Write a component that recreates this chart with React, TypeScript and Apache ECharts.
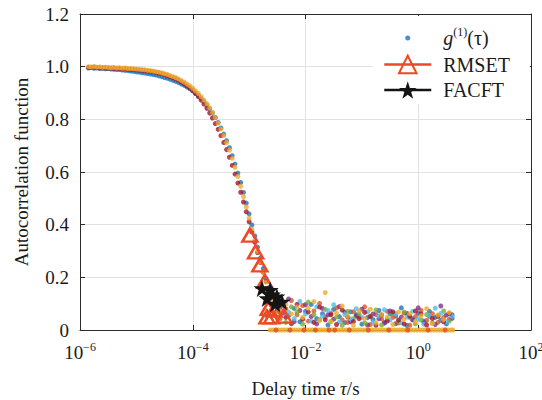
import React, { useEffect, useRef } from "react";
import * as echarts from "echarts";

// ---- data ----
// lag times for the decay part (s)
const curveTau = [
  1.41e-6, 1.58e-6, 1.78e-6, 2.0e-6, 2.24e-6, 2.51e-6, 2.82e-6, 3.16e-6, 3.55e-6, 3.98e-6,
  4.47e-6, 5.01e-6, 5.62e-6, 6.31e-6, 7.08e-6, 7.94e-6, 8.91e-6, 1.0e-5, 1.12e-5, 1.26e-5,
  1.41e-5, 1.58e-5, 1.78e-5, 2.0e-5, 2.24e-5, 2.51e-5, 2.82e-5, 3.16e-5, 3.55e-5, 3.98e-5,
  4.47e-5, 5.01e-5, 5.62e-5, 6.31e-5, 7.08e-5, 7.94e-5, 8.91e-5, 1.0e-4, 1.12e-4, 1.26e-4,
  1.41e-4, 1.58e-4, 1.78e-4, 2.0e-4, 2.24e-4, 2.51e-4, 2.82e-4, 3.16e-4, 3.55e-4, 3.98e-4,
  4.47e-4, 5.01e-4, 5.62e-4, 6.31e-4, 7.08e-4, 7.94e-4, 8.91e-4, 1.0e-3, 1.12e-3, 1.26e-3,
  1.41e-3, 1.58e-3, 1.78e-3, 2.0e-3, 2.24e-3, 2.51e-3, 2.82e-3, 3.16e-3,
];
const curveYellow = [
  1.0, 0.999, 1.001, 0.998, 0.999, 0.997, 0.998, 0.997, 0.996, 0.997,
  0.995, 0.996, 0.994, 0.995, 0.993, 0.993, 0.992, 0.991, 0.99, 0.989,
  0.988, 0.986, 0.985, 0.983, 0.981, 0.979, 0.976, 0.973, 0.97, 0.966,
  0.962, 0.958, 0.953, 0.947, 0.941, 0.934, 0.927, 0.918, 0.908, 0.898,
  0.886, 0.873, 0.859, 0.843, 0.826, 0.807, 0.786, 0.763, 0.738, 0.712,
  0.683, 0.652, 0.618, 0.583, 0.546, 0.507, 0.467, 0.425, 0.383, 0.341,
  0.299, 0.258, 0.219, 0.182, 0.148, 0.117, 0.09, 0.067,
];
const curveBlue = [
  0.995, 0.997, 0.994, 0.996, 0.993, 0.994, 0.992, 0.993, 0.991, 0.99,
  0.989, 0.989, 0.987, 0.986, 0.985, 0.983, 0.982, 0.98, 0.979, 0.977,
  0.976, 0.974, 0.972, 0.97, 0.968, 0.965, 0.962, 0.959, 0.956, 0.952,
  0.948, 0.944, 0.94, 0.934, 0.929, 0.922, 0.916, 0.908, 0.899, 0.89,
  0.879, 0.867, 0.854, 0.84, 0.824, 0.807, 0.788, 0.767, 0.744, 0.719,
  0.692, 0.662, 0.63, 0.596, 0.56, 0.522, 0.482, 0.441, 0.399, 0.357,
  0.315, 0.273, 0.234, 0.196, 0.161, 0.129, 0.101, 0.077,
];
const curveDarkRed = [
  0.997, 0.997, 0.998, 0.996, 0.996, 0.995, 0.995, 0.994, 0.994, 0.994,
  0.993, 0.993, 0.991, 0.992, 0.99, 0.99, 0.989, 0.988, 0.987, 0.986,
  0.985, 0.983, 0.982, 0.98, 0.978, 0.976, 0.973, 0.97, 0.966, 0.962,
  0.958, 0.954, 0.948, 0.942, 0.935, 0.927, 0.919, 0.909, 0.898, 0.886,
  0.873, 0.858, 0.842, 0.824, 0.805, 0.784, 0.762, 0.738, 0.712, 0.685,
  0.656, 0.625, 0.592, 0.558, 0.523, 0.486, 0.449, 0.411, 0.372, 0.333,
  0.294, 0.256, 0.219, 0.184, 0.151, 0.121, 0.094, 0.072,
];

// lag times of the noisy tail (two interleaved grids, s)
const tailTauA = [
  3.55e-3, 4.47e-3, 5.62e-3, 7.08e-3, 8.91e-3, 1.12e-2, 1.41e-2, 1.78e-2, 2.24e-2, 2.82e-2,
  3.55e-2, 4.47e-2, 5.62e-2, 7.08e-2, 8.91e-2, 0.112, 0.141, 0.178, 0.224, 0.282,
  0.355, 0.447, 0.562, 0.708, 0.891, 1.12, 1.41, 1.78, 2.24, 2.82, 3.55,
];
const tailTauB = [
  3.98e-3, 5.01e-3, 6.31e-3, 7.94e-3, 1.0e-2, 1.26e-2, 1.58e-2, 2.0e-2, 2.51e-2, 3.16e-2,
  3.98e-2, 5.01e-2, 6.31e-2, 7.94e-2, 0.1, 0.126, 0.158, 0.2, 0.251, 0.316,
  0.398, 0.501, 0.631, 0.794, 1.0, 1.26, 1.58, 2.0, 2.51, 3.16, 3.98,
];
const tailYellowA = [0.072, 0.098, 0.061, 0.087, 0.048, 0.083, 0.108, 0.037, 0.142, 0.031, 0.064, 0.091, 0.052, 0.018, 0.073, 0.044, 0.079, 0.027, 0.058, 0.049, 0.021, 0.068, 0.041, 0.062, 0.033, 0.054, 0.081, 0.024, 0.057, 0.039, 0.066];
const tailBlueB = [0.093, 0.054, 0.082, 0.031, 0.071, 0.097, 0.043, 0.062, 0.019, 0.078, 0.051, 0.028, 0.069, 0.058, 0.022, 0.047, 0.039, 0.074, 0.026, 0.061, 0.053, 0.084, 0.017, 0.042, 0.063, 0.034, 0.071, 0.048, 0.037, 0.023, 0.058];
const tailOrangeA = [0.043, 0.081, 0.112, 0.058, 0.093, 0.034, 0.072, 0.101, 0.049, 0.063, 0.084, 0.038, 0.029, 0.069, 0.052, 0.088, 0.021, 0.059, 0.042, 0.071, 0.048, 0.027, 0.064, 0.018, 0.051, 0.074, 0.036, 0.062, 0.029, 0.047, 0.041];
const tailPurpleB = [0.064, 0.118, 0.032, 0.074, 0.096, 0.051, 0.023, 0.082, 0.058, 0.041, 0.089, 0.068, 0.031, 0.053, 0.079, 0.019, 0.061, 0.043, 0.028, 0.072, 0.024, 0.049, 0.063, 0.038, 0.084, 0.029, 0.052, 0.021, 0.091, 0.057, 0.044];
const tailGreenA = [0.052, 0.029, 0.088, 0.067, 0.022, 0.106, 0.058, 0.039, 0.078, 0.033, 0.049, 0.018, 0.071, 0.043, 0.061, 0.027, 0.053, 0.076, 0.019, 0.041, 0.062, 0.031, 0.068, 0.047, 0.023, 0.038, 0.059, 0.028, 0.051, 0.072, 0.034];
const tailCyanB = [0.102, 0.068, 0.043, 0.109, 0.061, 0.034, 0.088, 0.052, 0.074, 0.096, 0.031, 0.059, 0.042, 0.081, 0.048, 0.069, 0.029, 0.053, 0.077, 0.038, 0.062, 0.027, 0.049, 0.071, 0.041, 0.022, 0.054, 0.083, 0.063, 0.032, 0.051];
const tailDarkRedA = [0.079, 0.048, 0.024, 0.097, 0.041, 0.068, 0.029, 0.087, 0.039, 0.058, 0.021, 0.076, 0.049, 0.032, 0.043, 0.067, 0.051, 0.018, 0.057, 0.034, 0.069, 0.038, 0.023, 0.052, 0.072, 0.061, 0.019, 0.044, 0.053, 0.031, 0.062];

// points sitting on zero (bottom band)
const zeroTau = [
  2.37e-3, 2.66e-3, 2.99e-3, 3.35e-3, 3.76e-3, 4.22e-3, 4.73e-3, 5.31e-3, 5.96e-3, 6.68e-3,
  7.5e-3, 8.41e-3, 9.44e-3, 1.06e-2, 1.19e-2, 1.33e-2, 1.5e-2, 1.68e-2, 1.88e-2, 2.11e-2,
  2.37e-2, 2.66e-2, 2.99e-2, 3.35e-2, 3.76e-2, 4.22e-2, 4.73e-2, 5.31e-2, 5.96e-2, 6.68e-2,
  7.5e-2, 8.41e-2, 9.44e-2, 0.106, 0.119, 0.133, 0.15, 0.168, 0.188, 0.211,
  0.237, 0.266, 0.299, 0.335, 0.376, 0.422, 0.473, 0.531, 0.596, 0.668,
  0.75, 0.841, 0.944, 1.06, 1.19, 1.33, 1.5, 1.68, 1.88, 2.11,
  2.37, 2.66, 2.99, 3.35, 3.76, 4.1,
];
const zeroValues = [
  0, 0, 0, 0, 0, 0, 0, 0, 0, 0, 0, 0, 0, 0, 0, 0, 0, 0, 0, 0, 0, 0,
  0, 0, 0, 0, 0, 0, 0, 0, 0, 0, 0, 0, 0, 0, 0, 0, 0, 0, 0, 0, 0, 0,
  0, 0, 0, 0, 0, 0, 0, 0, 0, 0, 0, 0, 0, 0, 0, 0, 0, 0, 0, 0, 0, 0,
];
const zeroOrangeTau = [3.0e-3, 5.3e-3, 9.4e-3, 1.5e-2, 2.6e-2, 3.3e-2, 6.0e-2, 0.13, 0.3, 0.65, 1.5, 3.0];
const zeroOrangeValues = [0, 0, 0, 0, 0, 0, 0, 0, 0, 0, 0, 0];

// RMSET and FACFT markers
const rmsetTau = [1.03e-3, 1.3e-3, 1.55e-3, 1.9e-3, 2.07e-3, 2.18e-3, 2.5e-3, 2.75e-3, 4.14e-3];
const rmsetValues = [0.36, 0.297, 0.247, 0.185, 0.05, 0.082, 0.05, 0.076, 0.053];
const facftTau = [1.69e-3, 2.07e-3, 2.37e-3, 2.6e-3, 2.9e-3, 3.11e-3, 3.82e-3];
const facftValues = [0.158, 0.12, 0.152, 0.135, 0.1, 0.127, 0.107];

const yTicks = [0, 0.2, 0.4, 0.6, 0.8, 1.0, 1.2];

// ---- styling ----
const FONT = "'Liberation Serif', 'Times New Roman', serif";
const TXT = "#1a1a1a";
const AXIS = "#2b2b2b";
const GRIDC = "#e2e2e2";
const C = {
  blue: "#1a74bd",
  orange: "#db5420",
  yellow: "#eeaa2c",
  purple: "#7e2f8e",
  green: "#77ac30",
  cyan: "#4dbeee",
  darkred: "#a2142f",
  rmset: "#ea4a26",
  facft: "#141414",
};
const STAR =
  "path://M50,0L61.8,35.3L98.5,35.3L68.8,57.1L79.9,92.7L50,70.9L20.1,92.7L31.2,57.1L1.5,35.3L38.2,35.3Z";
const DOT_ICON =
  "path://M0,0M47,0M0,22M47,22M21,11a2.5,2.5 0 1,0 5,0a2.5,2.5 0 1,0 -5,0Z";

const zip = (xs: number[], ys: number[]) => xs.map((x, i) => [x, ys[i]]);

const dots = (name: string, color: string, data: number[][]) => ({
  name,
  type: "scatter",
  xAxisIndex: 0,
  yAxisIndex: 0,
  data,
  symbol: "circle",
  symbolSize: 5,
  itemStyle: { color },
  silent: true,
});

export default function App() {
  const ref = useRef<HTMLDivElement>(null);

  useEffect(() => {
    document.body.style.margin = "0";
    const chart = echarts.init(ref.current!, null, { renderer: "svg" });

    const xLabelFmt = (v: number) => {
      const e = Math.round(Math.log10(v));
      const s = e < 0 ? "\u2212" + Math.abs(e) : String(e);
      return `{b|10}{s|${s}}`;
    };

    const option: any = {
      animation: false,
      backgroundColor: "#ffffff",
      textStyle: { fontFamily: FONT },
      grid: {
        left: 80,
        right: 11,
        top: 14,
        bottom: 70,
        containLabel: false,
        outerBoundsMode: "none",
      },
      legend: {
        orient: "vertical",
        left: 373,
        top: 16,
        padding: [10, 20, 4, 10],
        backgroundColor: "#ffffff",
        borderWidth: 0,
        itemWidth: 47,
        itemHeight: 22,
        itemGap: 5.5,
        selectedMode: false,
        data: [
          { name: "g1", icon: DOT_ICON },
          { name: "RMSET", lineStyle: { width: 2.5, opacity: 1, color: C.rmset } },
          { name: "FACFT", lineStyle: { width: 2.5, opacity: 1, color: C.facft } },
        ],
        formatter: (n: string) =>
          n === "g1" ? "{gi|g}{sup|(1)}{t|(\u03c4)}" : `{f|${n}}`,
        textStyle: {
          fontFamily: FONT,
          fontSize: 20,
          color: TXT,
          rich: {
            t: { fontFamily: FONT, fontSize: 20, color: TXT, lineHeight: 24 },
            f: { fontFamily: FONT, fontSize: 20, color: TXT, lineHeight: 24, padding: [0, 0, 0, 7] },
            gi: { fontFamily: FONT, fontSize: 20, color: TXT, lineHeight: 24, fontStyle: "italic", padding: [0, 0, 0, 7] },
            sup: { fontFamily: FONT, fontSize: 12, color: TXT, lineHeight: 15, verticalAlign: "top" },
          },
        },
      },
      xAxis: [
        {
          type: "log",
          logBase: 10,
          min: 1e-6,
          max: 1e2,
          interval: 2,
          position: "bottom",
          name: "{n|Delay time }{i|\u03c4}{n|/s}",
          nameLocation: "middle",
          nameGap: 47,
          nameTextStyle: {
            rich: {
              n: { fontFamily: FONT, fontSize: 19, color: TXT, lineHeight: 22 },
              i: { fontFamily: FONT, fontSize: 19, color: TXT, lineHeight: 22, fontStyle: "italic" },
            },
          },
          axisLine: { show: true, onZero: false, lineStyle: { color: AXIS, width: 1 } },
          axisTick: { show: true, inside: true, length: 5, lineStyle: { color: AXIS } },
          minorTick: { show: false },
          splitLine: { show: true, lineStyle: { color: GRIDC, width: 1 } },
          axisLabel: {
            margin: 11,
            formatter: xLabelFmt,
            rich: {
              b: { fontFamily: FONT, fontSize: 19, color: TXT, lineHeight: 22 },
              s: { fontFamily: FONT, fontSize: 12, color: TXT, lineHeight: 14, verticalAlign: "top" },
            },
          },
        },
        {
          type: "log",
          logBase: 10,
          min: 1e-6,
          max: 1e2,
          interval: 2,
          position: "top",
          axisLine: { show: true, onZero: false, lineStyle: { color: AXIS, width: 1 } },
          axisTick: { show: true, inside: true, length: 5, lineStyle: { color: AXIS } },
          axisLabel: { show: false },
          splitLine: { show: false },
        },
      ],
      yAxis: [
        {
          type: "value",
          min: yTicks[0],
          max: yTicks[yTicks.length - 1],
          interval: 0.2,
          position: "left",
          name: "Autocorrelation function",
          nameLocation: "middle",
          nameGap: 49,
          nameTextStyle: { fontFamily: FONT, fontSize: 19, color: TXT },
          axisLine: { show: true, onZero: false, lineStyle: { color: AXIS, width: 1 } },
          axisTick: { show: true, inside: true, length: 5, lineStyle: { color: AXIS } },
          splitLine: { show: true, lineStyle: { color: GRIDC, width: 1 } },
          axisLabel: {
            margin: 11,
            fontFamily: FONT,
            fontSize: 19,
            color: TXT,
            formatter: (v: number) => (v === 0 ? "0" : v.toFixed(1)),
          },
        },
        {
          type: "value",
          min: yTicks[0],
          max: yTicks[yTicks.length - 1],
          interval: 0.2,
          position: "right",
          axisLine: { show: true, onZero: false, lineStyle: { color: AXIS, width: 1 } },
          axisTick: { show: true, inside: true, length: 5, lineStyle: { color: AXIS } },
          axisLabel: { show: false },
          splitLine: { show: false },
        },
      ],
      series: [
        dots("g1", C.blue, zip(curveTau, curveBlue).concat(zip(tailTauB, tailBlueB))),
        dots("run-orange", C.orange, zip(tailTauA, tailOrangeA)),
        dots("run-purple", C.purple, zip(tailTauB, tailPurpleB)),
        dots("run-green", C.green, zip(tailTauA, tailGreenA)),
        dots("run-cyan", C.cyan, zip(tailTauB, tailCyanB)),
        dots("run-darkred", C.darkred, zip(curveTau, curveDarkRed).concat(zip(tailTauA, tailDarkRedA))),
        dots("run-yellow", C.yellow, zip(curveTau, curveYellow).concat(zip(tailTauA, tailYellowA))),
        dots("zero-yellow", C.yellow, zip(zeroTau, zeroValues)),
        dots("zero-orange", C.orange, zip(zeroOrangeTau, zeroOrangeValues)),
        {
          name: "RMSET",
          type: "line",
          data: zip(rmsetTau, rmsetValues),
          symbol: "triangle",
          symbolSize: [15, 13],
          showSymbol: true,
          itemStyle: { color: "rgba(255,255,255,0)", borderColor: C.rmset, borderWidth: 2.5 },
          lineStyle: { width: 2.5, color: C.rmset, opacity: 0 },
          silent: true,
          z: 5,
        },
        {
          name: "FACFT",
          type: "line",
          data: zip(facftTau, facftValues),
          symbol: STAR,
          symbolSize: 17,
          showSymbol: true,
          itemStyle: { color: C.facft },
          lineStyle: { width: 2.5, color: C.facft, opacity: 0 },
          silent: true,
          z: 6,
        },
      ],
    };

    chart.setOption(option);
    return () => chart.dispose();
  }, []);

  return (
    <div
      ref={ref}
      style={{ position: "absolute", left: 0, top: 0, width: 542, height: 400 }}
    />
  );
}
